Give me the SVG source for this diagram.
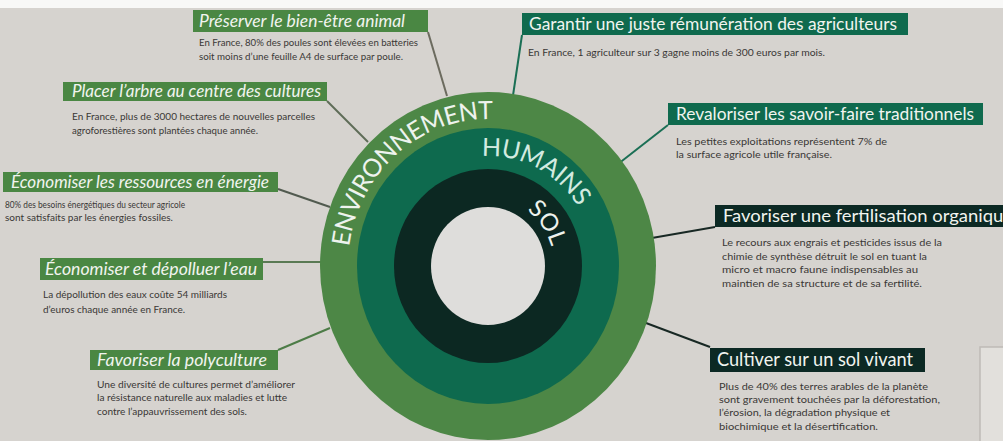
<svg xmlns="http://www.w3.org/2000/svg" width="1003" height="441" viewBox="0 0 1003 441">
<style>
.h{font-family:Lato,"Liberation Sans",sans-serif;font-size:18px;fill:#f1f4ef}
.hi{font-style:italic}
.b{font-family:Lato,"Liberation Sans",sans-serif;font-size:9px;fill:#3a3836}
.bg{fill:#4a8743}.bt{fill:#0f6a4e}.bd{fill:#0c2924}
.ring{font-family:Lato,"Liberation Sans",sans-serif;fill:#eef3ee}
.conn line{stroke-width:2;fill:none}
</style>
<defs>
<path id="pEnv" d="M349.2,246.8 A140,147 0 0 1 500.2,119.6"/>
<path id="pHum" d="M481.8,156.2 A107,110 0 0 1 585,219.5"/>
<path id="pSol" d="M526.8,210.2 A66,69 0 0 1 553.7,260"/>
</defs>
<rect width="1003" height="441" fill="#d6d3cf"/>
<rect width="1003" height="8" fill="#f8f8f7"/>
<rect x="980" y="347" width="30" height="100" fill="#e2e0dc" stroke="#bebbb6" stroke-width="1.5"/>

<g id="connectors" class="conn">
<line x1="428" y1="32" x2="447" y2="96" stroke="#6c6b5f"/>
<line x1="327" y1="101" x2="368" y2="142" stroke="#5f6c58"/>
<line x1="278" y1="189" x2="330" y2="207" stroke="#515a4f"/>
<line x1="263" y1="262" x2="321" y2="262" stroke="#5a7a54"/>
<line x1="278" y1="350" x2="330" y2="328" stroke="#4d7c47"/>
<line x1="522" y1="35" x2="508" y2="129" stroke="#1b6f55"/>
<line x1="668" y1="125" x2="595" y2="182" stroke="#1b6f55"/>
<line x1="715" y1="227" x2="583" y2="250" stroke="#182824"/>
<line x1="710" y1="347" x2="582" y2="299" stroke="#182824"/>
</g>

<g id="rings">
<ellipse cx="488" cy="266" rx="168" ry="174" fill="#4d8746"/>
<ellipse cx="488" cy="266" rx="131" ry="138" fill="#0e6a4e"/>
<ellipse cx="488" cy="266" rx="94" ry="97" fill="#0c2822"/>
<ellipse cx="488" cy="266" rx="57" ry="59" fill="#dedddb"/>
<text class="ring" font-size="25" letter-spacing="-0.5"><textPath href="#pEnv">ENVIRONNEMENT</textPath></text>
<text class="ring" font-size="25" letter-spacing="-0.5" fill="#d3ebe0" style="fill:#d3ebe0"><textPath href="#pHum">HUMAINS</textPath></text>
<text class="ring" font-size="24"><textPath href="#pSol">SOL</textPath></text>
</g>

<g id="n1">
<rect class="bg" x="193" y="10" width="235" height="22"/>
<text class="h hi" x="199" y="27" textLength="206" lengthAdjust="spacingAndGlyphs">Préserver le bien-être animal</text>
<text class="b" x="199" y="46" textLength="219" lengthAdjust="spacingAndGlyphs">En France, 80% des poules sont élevées en batteries</text>
<text class="b" x="199" y="60" textLength="204" lengthAdjust="spacingAndGlyphs">soit moins d’une feuille A4 de surface par poule.</text>
</g>

<g id="n2">
<rect class="bg" x="63" y="82" width="264" height="19"/>
<text class="h hi" x="72" y="97" textLength="249" lengthAdjust="spacingAndGlyphs">Placer l’arbre au centre des cultures</text>
<text class="b" x="72" y="120" textLength="243" lengthAdjust="spacingAndGlyphs">En France, plus de 3000 hectares de nouvelles parcelles</text>
<text class="b" x="72" y="134" textLength="186" lengthAdjust="spacingAndGlyphs">agroforestières sont plantées chaque année.</text>
</g>

<g id="n3">
<rect class="bg" x="3" y="172" width="275" height="20"/>
<text class="h hi" x="11" y="188" textLength="258" lengthAdjust="spacingAndGlyphs">Économiser les ressources en énergie</text>
<text class="b" x="5" y="208" textLength="180" lengthAdjust="spacingAndGlyphs">80% des besoins énergétiques du secteur agricole</text>
<text class="b" x="5" y="221" textLength="168" lengthAdjust="spacingAndGlyphs">sont satisfaits par les énergies fossiles.</text>
</g>

<g id="n4">
<rect class="bg" x="40" y="258" width="223" height="22"/>
<text class="h hi" x="45" y="275" textLength="212" lengthAdjust="spacingAndGlyphs">Économiser et dépolluer l’eau</text>
<text class="b" x="43" y="298" textLength="184" lengthAdjust="spacingAndGlyphs">La dépollution des eaux coûte 54 milliards</text>
<text class="b" x="43" y="313" textLength="142" lengthAdjust="spacingAndGlyphs">d’euros chaque année en France.</text>
</g>

<g id="n5">
<rect class="bg" x="90" y="350" width="188" height="20"/>
<text class="h hi" x="97" y="366" textLength="170" lengthAdjust="spacingAndGlyphs">Favoriser la polyculture</text>
<text class="b" x="97" y="388" textLength="198" lengthAdjust="spacingAndGlyphs">Une diversité de cultures permet d’améliorer</text>
<text class="b" x="97" y="401" textLength="190" lengthAdjust="spacingAndGlyphs">la résistance naturelle aux maladies et lutte</text>
<text class="b" x="97" y="415" textLength="150" lengthAdjust="spacingAndGlyphs">contre l’appauvrissement des sols.</text>
</g>

<g id="n6">
<rect class="bt" x="522" y="13" width="386" height="22"/>
<text class="h" x="529" y="30" textLength="368" lengthAdjust="spacingAndGlyphs">Garantir une juste rémunération des agriculteurs</text>
<text class="b" x="528" y="56" textLength="297" lengthAdjust="spacingAndGlyphs">En France, 1 agriculteur sur 3 gagne moins de 300 euros par mois.</text>
</g>

<g id="n7">
<rect class="bt" x="668" y="103" width="315" height="22"/>
<text class="h" x="676" y="120" textLength="298" lengthAdjust="spacingAndGlyphs">Revaloriser les savoir-faire traditionnels</text>
<text class="b" x="676" y="145" textLength="211" lengthAdjust="spacingAndGlyphs">Les petites exploitations représentent 7% de</text>
<text class="b" x="676" y="158" textLength="156" lengthAdjust="spacingAndGlyphs">la surface agricole utile française.</text>
</g>

<g id="n8">
<rect class="bd" x="715" y="205" width="300" height="22"/>
<text class="h" x="723" y="222" textLength="290" lengthAdjust="spacingAndGlyphs">Favoriser une fertilisation organique</text>
<text class="b" x="722" y="246" textLength="220" lengthAdjust="spacingAndGlyphs">Le recours aux engrais et pesticides issus de la</text>
<text class="b" x="722" y="260" textLength="205" lengthAdjust="spacingAndGlyphs">chimie de synthèse détruit le sol en tuant la</text>
<text class="b" x="722" y="273" textLength="196" lengthAdjust="spacingAndGlyphs">micro et macro faune indispensables au</text>
<text class="b" x="722" y="287" textLength="200" lengthAdjust="spacingAndGlyphs">maintien de sa structure et de sa fertilité.</text>
</g>

<g id="n9">
<rect class="bd" x="710" y="348" width="215" height="24"/>
<text class="h" x="717" y="366" font-size="19" style="font-size:19px" textLength="196" lengthAdjust="spacingAndGlyphs">Cultiver sur un sol vivant</text>
<text class="b" x="719" y="390" textLength="209" lengthAdjust="spacingAndGlyphs">Plus de 40% des terres arables de la planète</text>
<text class="b" x="719" y="403" textLength="221" lengthAdjust="spacingAndGlyphs">sont gravement touchées par la déforestation,</text>
<text class="b" x="719" y="416" textLength="171" lengthAdjust="spacingAndGlyphs">l’érosion, la dégradation physique et</text>
<text class="b" x="719" y="430" textLength="159" lengthAdjust="spacingAndGlyphs">biochimique et la désertification.</text>
</g>
</svg>
